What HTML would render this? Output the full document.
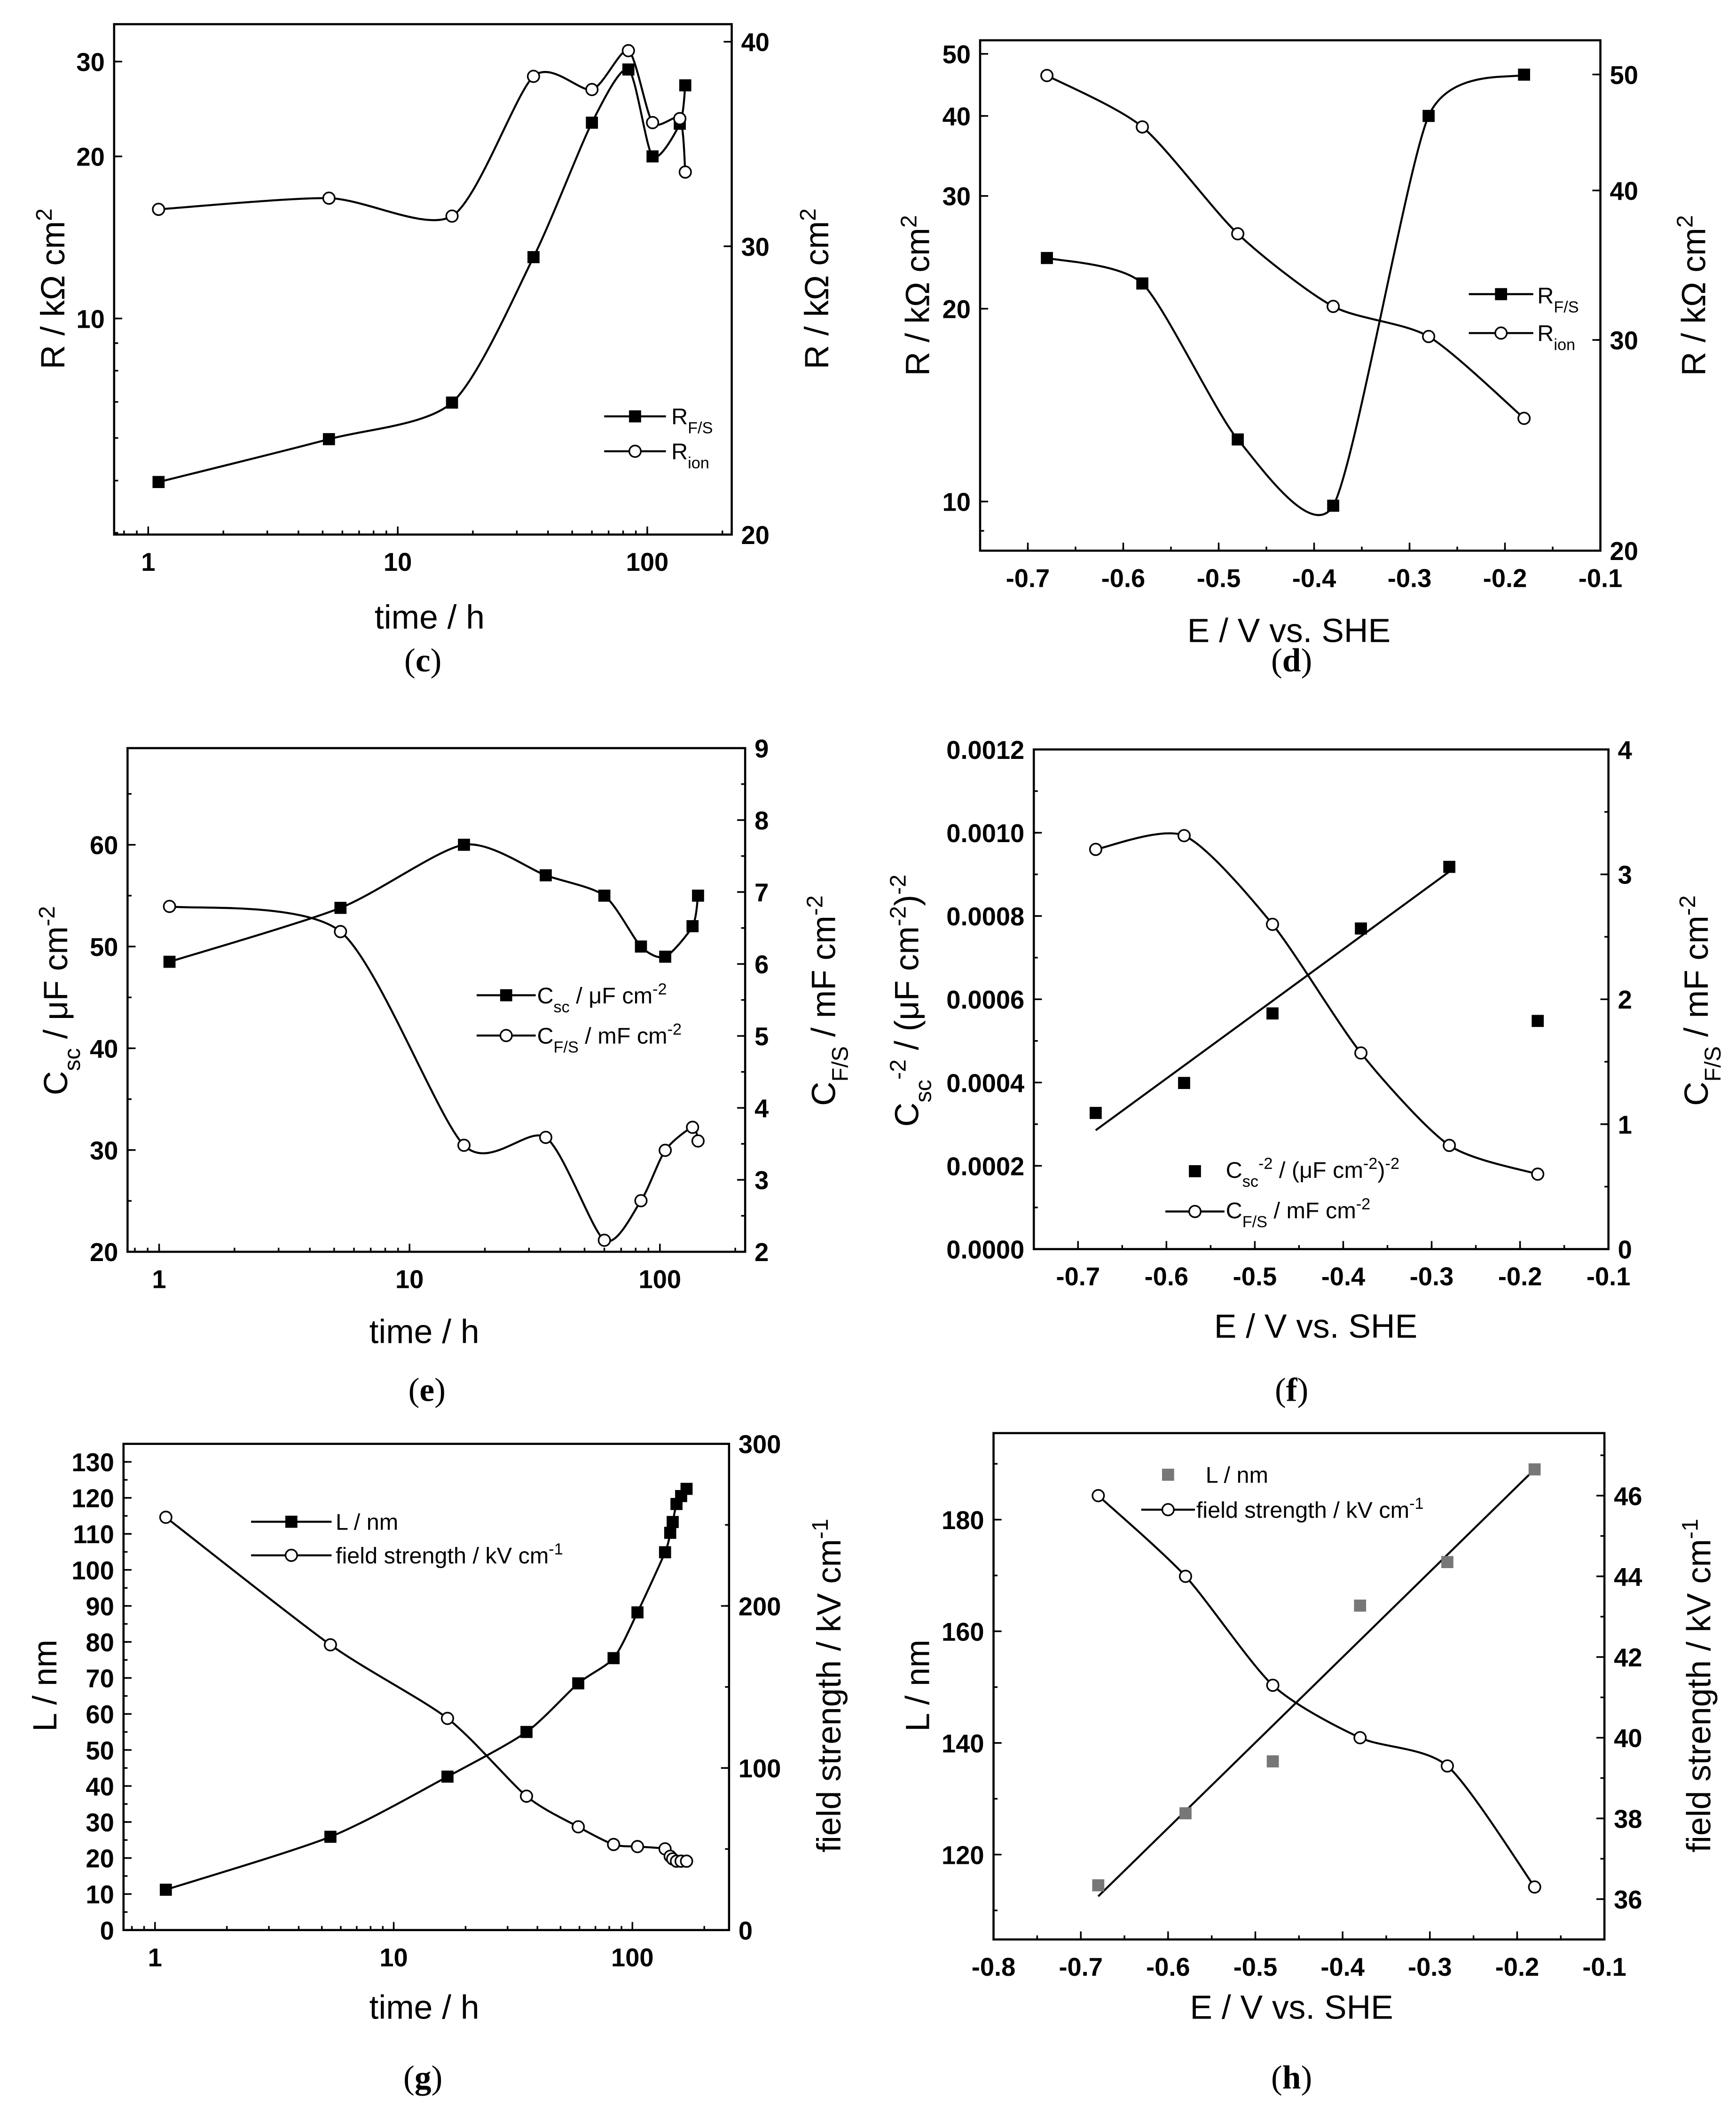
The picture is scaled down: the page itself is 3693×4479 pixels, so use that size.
<!DOCTYPE html>
<html><head><meta charset="utf-8">
<style>
html,body{margin:0;padding:0;background:#fff;}
svg{display:block;}
.tk{font-family:"Liberation Sans Narrow","Liberation Sans",sans-serif;font-weight:bold;font-size:19px;fill:#000;}
.ti{font-family:"Liberation Sans",sans-serif;font-size:25px;fill:#000;}
.lg{font-family:"Liberation Sans Narrow","Liberation Sans",sans-serif;font-size:17px;fill:#000;}
.pl{font-family:"Liberation Serif",serif;font-size:25px;fill:#000;}
</style></head>
<body>
<svg id="fig" width="3693" height="4479" viewBox="0 0 1293 1568" preserveAspectRatio="none" xmlns="http://www.w3.org/2000/svg">
<rect width="1293" height="1568" fill="#fff"/>
<text class="pl" x="315" y="500" text-anchor="middle">(<tspan font-weight="bold">c</tspan>)</text>
<text class="pl" x="962" y="500" text-anchor="middle">(<tspan font-weight="bold">d</tspan>)</text>
<text class="pl" x="318" y="1043" text-anchor="middle">(<tspan font-weight="bold">e</tspan>)</text>
<text class="pl" x="962" y="1043" text-anchor="middle">(<tspan font-weight="bold">f</tspan>)</text>
<text class="pl" x="315" y="1555" text-anchor="middle">(<tspan font-weight="bold">g</tspan>)</text>
<text class="pl" x="962" y="1555" text-anchor="middle">(<tspan font-weight="bold">h</tspan>)</text>

<text class="ti" x="320" y="468" text-anchor="middle">time / h</text>
<text class="ti" transform="translate(48,215) rotate(-90)" text-anchor="middle">R / kΩ cm<tspan baseline-shift="super" font-size="17">2</tspan></text>
<text class="ti" transform="translate(617,215) rotate(-90)" text-anchor="middle">R / kΩ cm<tspan baseline-shift="super" font-size="17">2</tspan></text>

<text class="ti" x="960" y="478" text-anchor="middle">E / V vs. SHE</text>
<text class="ti" transform="translate(692,220) rotate(-90)" text-anchor="middle">R / kΩ cm<tspan baseline-shift="super" font-size="17">2</tspan></text>
<text class="ti" transform="translate(1270,220) rotate(-90)" text-anchor="middle">R / kΩ cm<tspan baseline-shift="super" font-size="17">2</tspan></text>

<text class="ti" x="316" y="1000" text-anchor="middle">time / h</text>
<text class="ti" transform="translate(50,745) rotate(-90)" text-anchor="middle">C<tspan baseline-shift="sub" font-size="17">sc</tspan> / μF cm<tspan baseline-shift="super" font-size="17">-2</tspan></text>
<text class="ti" transform="translate(622,745) rotate(-90)" text-anchor="middle">C<tspan baseline-shift="sub" font-size="17">F/S</tspan> / mF cm<tspan baseline-shift="super" font-size="17">-2</tspan></text>

<text class="ti" x="980" y="996" text-anchor="middle">E / V vs. SHE</text>
<text class="ti" transform="translate(684,745) rotate(-90)" text-anchor="middle">C<tspan baseline-shift="sub" font-size="17">sc</tspan><tspan baseline-shift="super" font-size="17">-2</tspan> / (μF cm<tspan baseline-shift="super" font-size="17">-2</tspan>)<tspan baseline-shift="super" font-size="17">-2</tspan></text>
<text class="ti" transform="translate(1272,745) rotate(-90)" text-anchor="middle">C<tspan baseline-shift="sub" font-size="17">F/S</tspan> / mF cm<tspan baseline-shift="super" font-size="17">-2</tspan></text>

<text class="ti" x="316" y="1503" text-anchor="middle">time / h</text>
<text class="ti" transform="translate(42,1255) rotate(-90)" text-anchor="middle">L / nm</text>
<text class="ti" transform="translate(626,1255) rotate(-90)" text-anchor="middle">field strength / kV cm<tspan baseline-shift="super" font-size="17">-1</tspan></text>

<text class="ti" x="962" y="1503" text-anchor="middle">E / V vs. SHE</text>
<text class="ti" transform="translate(692,1255) rotate(-90)" text-anchor="middle">L / nm</text>
<text class="ti" transform="translate(1274,1255) rotate(-90)" text-anchor="middle">field strength / kV cm<tspan baseline-shift="super" font-size="17">-1</tspan></text>

<text class="lg" x="500" y="316">R<tspan baseline-shift="sub" font-size="12">F/S</tspan></text>
<text class="lg" x="500" y="342">R<tspan baseline-shift="sub" font-size="12">ion</tspan></text>
<text class="lg" x="1145" y="226">R<tspan baseline-shift="sub" font-size="12">F/S</tspan></text>
<text class="lg" x="1145" y="254">R<tspan baseline-shift="sub" font-size="12">ion</tspan></text>
<text class="lg" x="400" y="747">C<tspan baseline-shift="sub" font-size="12">sc</tspan> / μF cm<tspan baseline-shift="super" font-size="12">-2</tspan></text>
<text class="lg" x="400" y="777">C<tspan baseline-shift="sub" font-size="12">F/S</tspan> / mF cm<tspan baseline-shift="super" font-size="12">-2</tspan></text>
<text class="lg" x="913" y="877">C<tspan baseline-shift="sub" font-size="12">sc</tspan><tspan baseline-shift="super" font-size="12">-2</tspan> / (μF cm<tspan baseline-shift="super" font-size="12">-2</tspan>)<tspan baseline-shift="super" font-size="12">-2</tspan></text>
<text class="lg" x="913" y="907">C<tspan baseline-shift="sub" font-size="12">F/S</tspan> / mF cm<tspan baseline-shift="super" font-size="12">-2</tspan></text>
<text class="lg" x="250" y="1139">L / nm</text>
<text class="lg" x="250" y="1164">field strength / kV cm<tspan baseline-shift="super" font-size="12">-1</tspan></text>
<text class="lg" x="898" y="1104">L / nm</text>
<text class="lg" x="891" y="1130">field strength / kV cm<tspan baseline-shift="super" font-size="12">-1</tspan></text>
</svg>
<script>
const cTime = [1.1, 5.3, 16.5, 35, 60, 84, 105, 135, 142];
const cRfs = [4.97, 5.97, 6.98, 13, 23.1, 29, 20, 23, 27.1];
const cRion = [31.6, 32.1, 31.3, 38.1, 37.4, 39.5, 35.7, 35.9, 33.3];

const dE = [-0.68, -0.58, -0.48, -0.38, -0.28, -0.18];
const dRfs = [24, 21.9, 12.5, 9.85, 40, 46.4];
const dRion = [49.9, 45.2, 36.8, 32, 30.2, 25.8];

const eTime = [1.1, 5.3, 16.5, 35, 60, 84, 105, 135, 142];
const eCsc = [48.5, 53.8, 60, 57, 55, 50, 49, 52, 55];
const eCfs = [6.8, 6.45, 3.48, 3.59, 2.16, 2.71, 3.41, 3.73, 3.54];

const fE = [-0.68, -0.58, -0.48, -0.38, -0.28, -0.18];
const fCsc2 = [0.000327, 0.000399, 0.000566, 0.00077, 0.000918, 0.000548];
const fCfs = [3.2, 3.31, 2.6, 1.57, 0.83, 0.60];

const gTime = [1.11, 5.43, 16.8, 36, 59.3, 83.4, 105, 137, 144, 147.5, 153, 160, 168.6];
const gL = [11.2, 25.9, 42.6, 55, 68.5, 75.5, 88.2, 104.9, 110.3, 113.3, 118.3, 120.5, 122.5];
const gField = [254.7, 176, 130.6, 82.6, 63.7, 52.8, 51.5, 50.1, 45.5, 43.9, 42.5, 42.5, 42.5];

const hE = [-0.68, -0.58, -0.48, -0.38, -0.28, -0.18];
const hL = [114.5, 127.4, 136.7, 164.6, 172.4, 189];
const hField = [46.0, 44.0, 41.3, 40.0, 39.3, 36.3];

const cTicksX = [1, 10, 100];
const cTicksYL = [10, 20, 30];
const cTicksYR = [20, 30, 40];
const dTicksX = [-0.7, -0.6, -0.5, -0.4, -0.3, -0.2, -0.1];
const dTicksYL = [10, 20, 30, 40, 50];
const dTicksYR = [20, 30, 40, 50];
const eTicksYL = [20, 30, 40, 50, 60];
const eTicksYR = [2, 3, 4, 5, 6, 7, 8, 9];
const fTicksYL = [0, 0.0002, 0.0004, 0.0006, 0.0008, 0.0010, 0.0012];
const fTicksYR = [0, 1, 2, 3, 4];
const gTicksYL = [0,10,20,30,40,50,60,70,80,90,100,110,120,130];
const gTicksYR = [0, 100, 200, 300];
const hTicksX = [-0.8, -0.7, -0.6, -0.5, -0.4, -0.3, -0.2, -0.1];
const hTicksYL = [120, 140, 160, 180];
const hTicksYR = [36, 38, 40, 42, 44, 46];

const NS = 'http://www.w3.org/2000/svg';
const svg = document.getElementById('fig');
function mk(tag, attrs, parent) {
  const e = document.createElementNS(NS, tag);
  for (const k in attrs) e.setAttribute(k, attrs[k]);
  (parent || svg).appendChild(e);
  return e;
}
function scale(type, d0, d1, r0, r1) {
  if (type === 'log') {
    const a = Math.log10(d0), b = Math.log10(d1);
    return v => r0 + (Math.log10(v) - a) / (b - a) * (r1 - r0);
  }
  return v => r0 + (v - d0) / (d1 - d0) * (r1 - r0);
}
function catmull(pts, t) {
  let d = 'M' + pts[0][0] + ',' + pts[0][1];
  for (let i = 0; i < pts.length - 1; i++) {
    const p0 = pts[i - 1] || pts[i], p1 = pts[i], p2 = pts[i + 1], p3 = pts[i + 2] || p2;
    const c1 = [p1[0] + (p2[0] - p0[0]) / t, p1[1] + (p2[1] - p0[1]) / t];
    const c2 = [p2[0] - (p3[0] - p1[0]) / t, p2[1] - (p3[1] - p1[1]) / t];
    d += ' C' + c1[0] + ',' + c1[1] + ' ' + c2[0] + ',' + c2[1] + ' ' + p2[0] + ',' + p2[1];
  }
  return d;
}
function fmt(v, dec) { return dec ? v.toFixed(dec) : String(Math.round(v * 100) / 100); }
function logMinors(d0, d1) {
  const out = [];
  for (let e = -1; e < 4; e++) for (let m = 1; m < 10; m++) { const v = m * Math.pow(10, e); if (v >= d0 && v <= d1) out.push(v); }
  return out;
}
function linMinors(d0, d1, step) {
  const out = []; const s = Math.ceil(d0 / step - 1e-9);
  for (let k = s; k * step <= d1 + 1e-12; k++) out.push(k * step);
  return out;
}
function drawPanel(p) {
  const [x1, y1, x2, y2] = p.box;
  const g = mk('g', {});
  
  
  const sx = scale(p.xt, p.xd[0], p.xd[1], x1, x2);
  const syL = scale(p.yLt, p.yLd[0], p.yLd[1], y2, y1);
  const syR = scale(p.yRt, p.yRd[0], p.yRd[1], y2, y1);
  const frame = mk('rect', {x: x1, y: y1, width: x2 - x1, height: y2 - y1, fill: 'none', stroke: '#000', 'stroke-width': 1.6}, g);
  
  
  const tg = mk('g', {stroke: '#000', 'stroke-width': 1.2}, g);
  
  
  const xMin = p.xt === 'log' ? logMinors(p.xd[0], p.xd[1]) : linMinors(p.xd[0], p.xd[1], p.xMinor);
  xMin.forEach(v => { const X = sx(v); mk('line', {x1: X, x2: X, y1: y2, y2: y2 - 3}, tg); });
  p.xTicks.forEach(v => {
    const X = sx(v); mk('line', {x1: X, x2: X, y1: y2, y2: y2 - 6}, tg);
    const t = mk('text', {x: X, y: y2 + 27, 'text-anchor': 'middle', class: 'tk'}, g);
    
    
    t.textContent = fmt(v, p.xDec);
  });
  const yLMin = p.yLt === 'log' ? logMinors(p.yLd[0], p.yLd[1]) : linMinors(p.yLd[0], p.yLd[1], p.yLMinor);
  yLMin.forEach(v => { const Y = syL(v); mk('line', {x1: x1, x2: x1 + 3, y1: Y, y2: Y}, tg); });
  p.yLTicks.forEach(v => {
    const Y = syL(v); mk('line', {x1: x1, x2: x1 + 6, y1: Y, y2: Y}, tg);
    const t = mk('text', {x: x1 - 7, y: Y + 7, 'text-anchor': 'end', class: 'tk'}, g);
    
    
    t.textContent = fmt(v, p.yLDec);
  });
  const yRMin = p.yRt === 'log' ? logMinors(p.yRd[0], p.yRd[1]) : linMinors(p.yRd[0], p.yRd[1], p.yRMinor);
  yRMin.forEach(v => { const Y = syR(v); mk('line', {x1: x2, x2: x2 - 3, y1: Y, y2: Y}, tg); });
  p.yRTicks.forEach(v => {
    const Y = syR(v); mk('line', {x1: x2, x2: x2 - 6, y1: Y, y2: Y}, tg);
    const t = mk('text', {x: x2 + 7, y: Y + 7, 'text-anchor': 'start', class: 'tk'}, g);
    
    
    t.textContent = fmt(v, p.yRDec);
  });
  p.series.forEach(s => {
    const sy = s.axis === 'R' ? syR : syL;
    const pts = s.x.map((v, i) => [sx(v), sy(s.y[i])]);
    if (s.line === 'spline') {
      const path = mk('path', {d: catmull(pts, s.t || 8), fill: 'none', stroke: '#000', 'stroke-width': 1.5}, g);
      
      
    } else if (s.line === 'fit') {
      const n = s.fitN || s.x.length;
      const xs = s.x.slice(0, n), ys = s.y.slice(0, n);
      const mx = xs.reduce((a, b) => a + b, 0) / n, my = ys.reduce((a, b) => a + b, 0) / n;
      let num = 0, den = 0;
      xs.forEach((v, i) => { num += (v - mx) * (ys[i] - my); den += (v - mx) * (v - mx); });
      const k = num / den;
      const xa = xs[0], xb = xs[n - 1];
      const ln = mk('line', {x1: sx(xa), y1: sy(my + k * (xa - mx)), x2: sx(xb), y2: sy(my + k * (xb - mx)), stroke: '#000', 'stroke-width': 1.5}, g);
      
      
    }
    pts.forEach(q => {
      let m;
      if (s.marker === 'square') m = mk('rect', {x: q[0] - 4.5, y: q[1] - 4.5, width: 9, height: 9, fill: s.color || '#000'}, g);
      else m = mk('circle', {cx: q[0], cy: q[1], r: 4.3, fill: '#fff', stroke: '#000', 'stroke-width': 1.2}, g);
      
      
    });
  });
  p.legend.forEach(l => {
    if (l.line) {
      const ln = mk('line', {x1: l.x, x2: l.x + l.w, y1: l.y, y2: l.y, stroke: '#000', 'stroke-width': 1.5}, g);
      
      
    }
    const cx = l.x + l.w / 2;
    let m;
    if (l.marker === 'square') m = mk('rect', {x: cx - 4.5, y: l.y - 4.5, width: 9, height: 9, fill: l.color || '#000'}, g);
    else m = mk('circle', {cx: cx, cy: l.y, r: 4.3, fill: '#fff', stroke: '#000', 'stroke-width': 1.2}, g);
    
    
  });
}

drawPanel({id: 'c', box: [85, 18, 545, 398], xt: 'log', xd: [0.73, 218], xTicks: cTicksX,
  yLt: 'log', yLd: [3.97, 35.2], yLTicks: cTicksYL, yRt: 'log', yRd: [20, 41], yRTicks: cTicksYR,
  series: [{name: 'rfs', x: cTime, y: cRfs, axis: 'L', marker: 'square', line: 'spline'},
           {name: 'rion', x: cTime, y: cRion, axis: 'R', marker: 'circle', line: 'spline'}],
  legend: [{x: 450, y: 310, w: 46, marker: 'square', line: true}, {x: 450, y: 336, w: 46, marker: 'circle', line: true}]});

drawPanel({id: 'd', box: [730, 30, 1192, 410], xt: 'lin', xd: [-0.75, -0.1], xTicks: dTicksX, xMinor: 0.05, xDec: 1,
  yLt: 'log', yLd: [8.38, 52.5], yLTicks: dTicksYL, yRt: 'log', yRd: [20, 53.4], yRTicks: dTicksYR,
  series: [{name: 'rfs', x: dE, y: dRfs, axis: 'L', marker: 'square', line: 'spline', t: 9},
           {name: 'rion', x: dE, y: dRion, axis: 'R', marker: 'circle', line: 'spline'}],
  legend: [{x: 1094, y: 219, w: 48, marker: 'square', line: true}, {x: 1094, y: 248, w: 48, marker: 'circle', line: true}]});

drawPanel({id: 'e', box: [95, 557, 555, 932], xt: 'log', xd: [0.748, 219], xTicks: cTicksX,
  yLt: 'lin', yLd: [20, 69.5], yLTicks: eTicksYL, yLMinor: 5, yRt: 'lin', yRd: [2, 9], yRTicks: eTicksYR, yRMinor: 0.5,
  series: [{name: 'csc', x: eTime, y: eCsc, axis: 'L', marker: 'square', line: 'spline'},
           {name: 'cfs', x: eTime, y: eCfs, axis: 'R', marker: 'circle', line: 'spline'}],
  legend: [{x: 355, y: 741, w: 44, marker: 'square', line: true}, {x: 355, y: 771, w: 44, marker: 'circle', line: true}]});

drawPanel({id: 'f', box: [770, 558, 1198, 930], xt: 'lin', xd: [-0.75, -0.1], xTicks: dTicksX, xMinor: 0.05, xDec: 1,
  yLt: 'lin', yLd: [0, 0.0012], yLTicks: fTicksYL, yLMinor: 0.0001, yLDec: 4, yRt: 'lin', yRd: [0, 4], yRTicks: fTicksYR, yRMinor: 0.5,
  series: [{name: 'csc2', x: fE, y: fCsc2, axis: 'L', marker: 'square', line: 'fit', fitN: 5},
           {name: 'cfs', x: fE, y: fCfs, axis: 'R', marker: 'circle', line: 'spline'}],
  legend: [{x: 868, y: 872, w: 44, marker: 'square', line: false}, {x: 868, y: 902, w: 44, marker: 'circle', line: true}]});

drawPanel({id: 'g', box: [92, 1075, 543, 1437], xt: 'log', xd: [0.738, 254], xTicks: cTicksX,
  yLt: 'lin', yLd: [0, 135], yLTicks: gTicksYL, yLMinor: 5, yRt: 'lin', yRd: [0, 300], yRTicks: gTicksYR, yRMinor: 50,
  series: [{name: 'l', x: gTime, y: gL, axis: 'L', marker: 'square', line: 'spline'},
           {name: 'field', x: gTime, y: gField, axis: 'R', marker: 'circle', line: 'spline'}],
  legend: [{x: 187, y: 1133, w: 60, marker: 'square', line: true}, {x: 187, y: 1158, w: 60, marker: 'circle', line: true}]});

drawPanel({id: 'h', box: [740, 1067, 1195, 1444], xt: 'lin', xd: [-0.8, -0.1], xTicks: hTicksX, xMinor: 0.05, xDec: 1,
  yLt: 'lin', yLd: [104.8, 195.5], yLTicks: hTicksYL, yLMinor: 10, yRt: 'lin', yRd: [35, 47.55], yRTicks: hTicksYR, yRMinor: 1,
  series: [{name: 'l', x: hE, y: hL, axis: 'L', marker: 'square', line: 'fit', color: '#777'},
           {name: 'field', x: hE, y: hField, axis: 'R', marker: 'circle', line: 'spline'}],
  legend: [{x: 850, y: 1098, w: 40, marker: 'square', line: false, color: '#777'}, {x: 850, y: 1124, w: 40, marker: 'circle', line: true}]});
</script>
</body></html>
